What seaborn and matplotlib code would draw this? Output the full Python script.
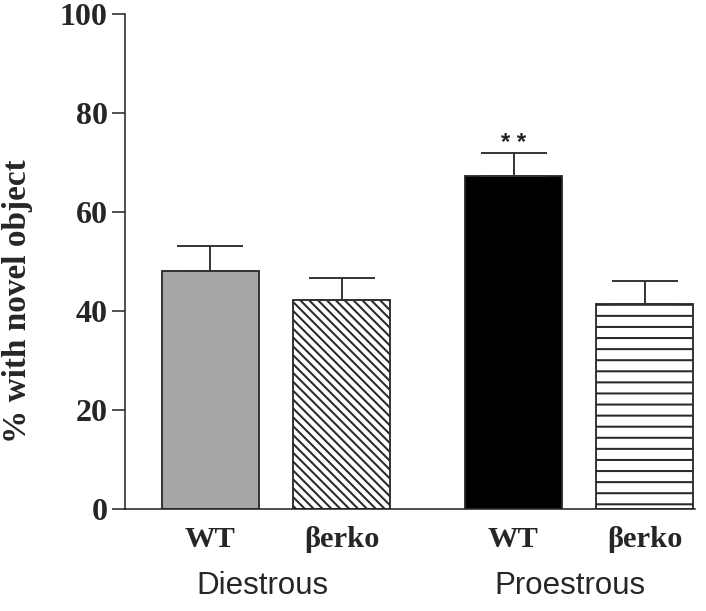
import numpy as np
import pandas as pd
import matplotlib
matplotlib.use("Agg")
import matplotlib.pyplot as plt
import seaborn as sns

# values
groups = ["Diestrous", "Proestrous"]
genotypes = ["WT", "\u03b2erko", "WT", "\u03b2erko"]
bar_names = ["Diestrous WT", "Diestrous \u03b2erko", "Proestrous WT", "Proestrous \u03b2erko"]
positions = [0.0, 1.0, 2.31, 3.31]
means = [48.1, 42.2, 67.3, 41.4]
sems = [5.1, 4.5, 4.7, 4.7]
colors = ["#a6a6a6", "white", "black", "white"]
hatches = [None, "\\" * 5, None, "--"]

DPI = 133  # hatch spacing scales with dpi

sns.set_style("ticks")
plt.rcParams["font.family"] = ["Liberation Serif", "DejaVu Serif"]
plt.rcParams["hatch.linewidth"] = 1.1
plt.rcParams["hatch.color"] = "#333333"

df = pd.DataFrame({"pos": positions, "value": means, "bar": bar_names})

fig = plt.figure(figsize=(706 / DPI, 611 / DPI), dpi=DPI)
ax = fig.add_axes([0.177, 0.167, 0.807, 0.810])

sns.barplot(data=df, x="pos", y="value", hue="bar", hue_order=bar_names,
            palette=dict(zip(bar_names, colors)), native_scale=True,
            dodge=False, width=0.74, errorbar=None, legend=False,
            edgecolor="#2a2a2a", linewidth=1.0, saturation=1, ax=ax)

bars = sorted(ax.patches, key=lambda p: p.get_x())
for p, h in zip(bars, hatches):
    if h:
        p.set_hatch(h)
    p.set_edgecolor("#2a2a2a")

ax.errorbar(positions, means, yerr=[np.zeros(4), sems], fmt="none",
            ecolor="#333333", elinewidth=1.05, capsize=18, capthick=1.05, zorder=1)

ax.text(positions[2], means[2] + sems[2] + 0.6, "* *", ha="center", va="baseline",
        fontsize=13, fontweight="bold", family=["Liberation Sans", "DejaVu Sans"],
        color="#222222")

ax.set_xlim(-0.65, 3.69)
ax.set_ylim(0, 100)
ax.set_yticks([0, 20, 40, 60, 80, 100])
ax.set_xticks(positions)
ax.set_xticklabels(genotypes, fontsize=16.5, fontweight="bold")
ax.tick_params(axis="x", length=0, pad=9)
ax.tick_params(axis="y", length=6.8, width=0.85, labelsize=17.3, pad=2.5)
for lab in ax.get_yticklabels():
    lab.set_fontweight("bold")
ax.set_xlabel("")
ax.set_ylabel("% with novel object", fontsize=18, fontweight="bold")
ax.yaxis.set_label_coords(-0.162, 0.42)

for s in ["top", "right"]:
    ax.spines[s].set_visible(False)
for s in ["left", "bottom"]:
    ax.spines[s].set_linewidth(0.85)
    ax.spines[s].set_color("#222222")

trans = ax.get_xaxis_transform()
for g, x in zip(groups, [0.4, 2.74]):
    ax.text(x, -0.155, g, transform=trans, ha="center", va="center",
            fontsize=16.9, family=["Liberation Sans", "DejaVu Sans"])

fig.savefig("out.png", dpi=DPI)
